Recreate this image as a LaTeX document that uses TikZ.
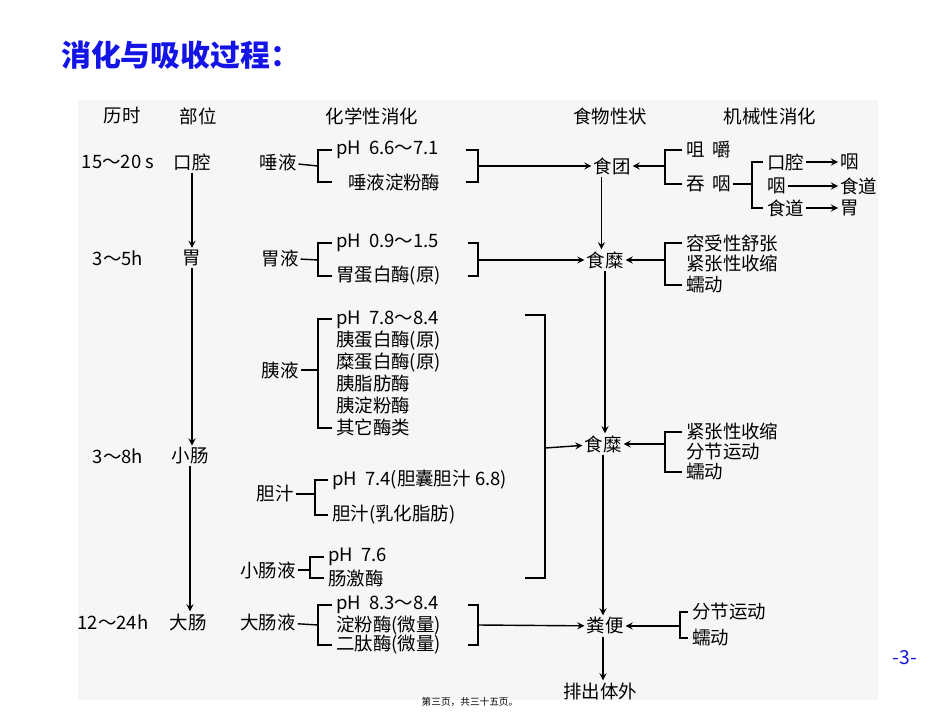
\documentclass[tikz,border=0pt]{standalone}
\usepackage{fontspec}
\newfontfamily\cjk{Noto Sans CJK SC}
\usetikzlibrary{positioning}
\definecolor{titleblue}{RGB}{20,20,230}
\definecolor{scan}{RGB}{246,246,244}
\tikzset{
  txt/.style={font=\cjk\fontsize{10.5}{12}\selectfont, inner sep=1pt},
  itm/.style={txt, anchor=west},
  br/.style={thick},
  arr/.style={thick, ->}
}
\begin{document}
\begin{tikzpicture}[>=stealth, x=0.02cm, y=-0.02cm]
    \useasboundingbox (0,0) rectangle (950,713);
    \fill [scan] (78,100) rectangle (878,700);
    \node [font=\cjk\bfseries\fontsize{17}{20}\selectfont, text=titleblue, anchor=west] (title) at (55,55) {消化与吸收过程：};
    \node [font=\cjk\fontsize{11}{13}\selectfont, text=titleblue] (pg) at (905,658) {-3-};
    \node [font=\cjk\fontsize{5.5}{7}\selectfont] (foot) at (470,702) {第三页，共三十五页。};
    % headers
    \node [txt] (h1) at (122,116) {历时};
    \node [txt] (h2) at (198,116) {部位};
    \node [txt] (h3) at (372,116) {化学性消化};
    \node [txt] (h4) at (610,116) {食物性状};
    \node [txt] (h5) at (770,116) {机械性消化};
    % time and site
    \node [txt] (t1) at (118,162) {15～20 s};
    \node [txt] (t2) at (118,258) {3～5h};
    \node [txt] (t3) at (118,456) {3～8h};
    \node [txt] (t4) at (113,622) {12～24h};
    \node [txt] (kq) at (192,162) {口腔};
    \node [txt] (wei) at (192,258) {胃};
    \node [txt] (xc) at (190,456) {小肠};
    \node [txt] (dc) at (188,622) {大肠};
    \draw [arr] (kq.south) -- (kq.south |- wei.north);
    \draw [arr] (wei.south) -- (wei.south |- xc.north);
    \draw [arr] (xc.south) -- (xc.south |- dc.north);
    % saliva
    \node [txt] (ty) at (278,162) {唾液};
    \node [itm] (ty1) at (334,150) {pH\ \ 6.6～7.1};
    \node [itm] (ty2) at (346,182) {唾液淀粉酶};
    \draw [br] (332,150) -- (318,150) -- (318,182) -- (332,182);
    \draw [br] (ty) -- (318,166);
    \draw [br] (466,150) -- (478,150) -- (478,182) -- (466,182);
    \coordinate (ty0) at (478,166);
    % gastric juice
    \node [txt] (wy) at (280,258) {胃液};
    \node [itm] (wy1) at (334,243) {pH\ \ 0.9～1.5};
    \node [itm] (wy2) at (334,276) {胃蛋白酶(原)};
    \draw [br] (332,243) -- (318,243) -- (318,276) -- (332,276);
    \draw [br] (wy) -- (318,260);
    \draw [br] (468,243) -- (478,243) -- (478,276) -- (468,276);
    \coordinate (wy0) at (478,260);
    % pancreatic juice
    \node [txt] (yy) at (280,370) {胰液};
    \foreach \t [count=\i] in {pH\ \ 7.8～8.4,胰蛋白酶(原),糜蛋白酶(原),胰脂肪酶,胰淀粉酶,其它酶类}
        \node [itm] (yy\i) at (334,298+21.5*\i) {\t};
    \draw [br] (332,319) -- (318,319) -- (318,428) -- (332,428);
    \draw [br] (yy) -- (318,370);
    % bile
    \node [txt] (dz) at (275,494) {胆汁};
    \node [itm] (dz1) at (330,480) {pH\ \ 7.4(胆囊胆汁 6.8)};
    \node [itm] (dz2) at (330,515) {胆汁(乳化脂肪)};
    \draw [br] (328,480) -- (315,480) -- (315,515) -- (328,515);
    \draw [br] (dz) -- (315,494);
    % intestinal juice
    \node [txt] (xy) at (268,570) {小肠液};
    \node [itm] (xy1) at (326,557) {pH\ \ 7.6};
    \node [itm] (xy2) at (326,578) {肠激酶};
    \draw [br] (324,557) -- (310,557) -- (310,578) -- (324,578);
    \draw [br] (xy) -- (310,570);
    \draw [br] (525,315) -- (545,315) -- (545,578) -- (525,578);
    \coordinate (xy0) at (545,448);
    % large intestine juice
    \node [txt] (dy) at (268,622) {大肠液};
    \node [itm] (dy1) at (334,605) {pH\ \ 8.3～8.4};
    \node [itm] (dy2) at (334,625) {淀粉酶(微量)};
    \node [itm] (dy3) at (334,645) {二肽酶(微量)};
    \draw [br] (332,605) -- (318,605) -- (318,645) -- (332,645);
    \draw [br] (dy) -- (318,625);
    \draw [br] (468,605) -- (478,605) -- (478,645) -- (468,645);
    \coordinate (dy0) at (478,625);
    % food states
    \node [txt] (st) at (612,166) {食团};
    \node [txt] (sm1) at (605,260) {食糜};
    \node [txt] (sm2) at (603,444) {食糜};
    \node [txt] (fb) at (605,626) {粪便};
    \node [txt] (pc) at (600,691) {排出体外};
    \draw [arr] (ty0) -- (st);
    \draw [arr] (wy0) -- (sm1);
    \draw [arr] (xy0) -- (sm2);
    \draw [arr] (dy0) -- (fb);
    \draw [arr] (st.south west) ++(10,0) coordinate (st1) -- (st1 |- sm1.north);
    \draw [arr] (sm1.south) -- (sm1.south |- sm2.north);
    \draw [arr] (sm2.south) -- (sm2.south |- fb.north);
    \draw [arr] (sm2.south |- fb.south) -- (sm2.south |- pc.north);
    % mouth mechanics
    \node [itm] (jj) at (684,150) {咀\ \ 嚼};
    \node [itm] (ty3) at (684,184) {吞\ \ 咽};
    \draw [br] (682,150) -- (665,150) -- (665,184) -- (682,184);
    \coordinate (m1) at (665,166);
    \draw [arr] (m1) -- (st);
    \node [itm] (kq2) at (765,162) {口腔};
    \node [itm] (yan1) at (765,186) {咽};
    \node [itm] (sd1) at (765,208) {食道};
    \node [itm] (yan2) at (838,162) {咽};
    \node [itm] (sd2) at (838,186) {食道};
    \node [itm] (wei2) at (838,208) {胃};
    \draw [br] (763,162) -- (752,162) -- (752,208) -- (763,208);
    \draw [br] (ty3) -- (752,184);
    \draw [arr] (kq2) -- (yan2);
    \draw [arr] (yan1) -- (sd2);
    \draw [arr] (sd1) -- (wei2);
    % stomach mechanics
    \node [itm] (m21) at (684,243) {容受性舒张};
    \node [itm] (m22) at (684,264) {紧张性收缩};
    \node [itm] (m23) at (684,285) {蠕动};
    \draw [br] (682,243) -- (665,243) -- (665,285) -- (682,285);
    \coordinate (m2) at (665,260);
    \draw [arr] (m2) -- (sm1);
    % small intestine mechanics
    \node [itm] (m31) at (684,432) {紧张性收缩};
    \node [itm] (m32) at (684,452) {分节运动};
    \node [itm] (m33) at (684,472) {蠕动};
    \draw [br] (682,432) -- (665,432) -- (665,472) -- (682,472);
    \coordinate (m3) at (665,444);
    \draw [arr] (m3) -- (sm2);
    % large intestine mechanics
    \node [itm] (m41) at (690,612) {分节运动};
    \node [itm] (m42) at (690,638) {蠕动};
    \draw [br] (688,612) -- (680,612) -- (680,638) -- (688,638);
    \coordinate (m4) at (680,626);
    \draw [arr] (m4) -- (fb);
\end{tikzpicture}
\end{document}
